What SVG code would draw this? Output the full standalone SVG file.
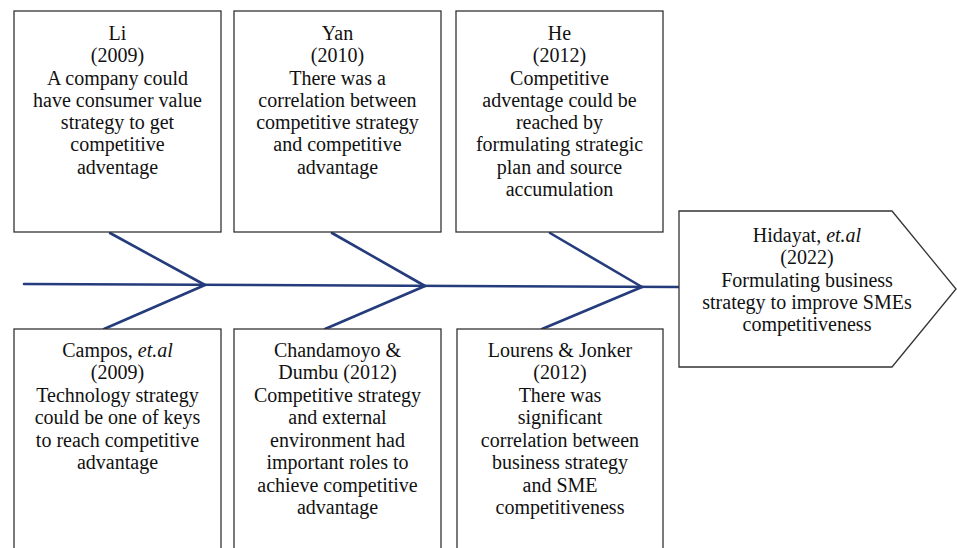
<svg xmlns="http://www.w3.org/2000/svg" width="957" height="548" viewBox="0 0 957 548">
<style>
.box{fill:#fff;stroke:#333;stroke-width:1.3}
.bone{stroke:#243b7c;stroke-width:2.6;fill:none;stroke-linecap:round}
.t text{text-anchor:middle;font-family:"Liberation Serif","Times New Roman",Times,"DejaVu Serif","Noto Serif",Tinos,FreeSerif,Georgia,serif;font-size:20px;fill:#111}
.it{font-style:italic}
</style>
<rect width="957" height="548" fill="#fff"/>
<g id="connectors">
<line class="bone" x1="24" y1="284" x2="679" y2="287"/>
<line class="bone" x1="110" y1="233" x2="205" y2="285"/>
<line class="bone" x1="205" y1="285" x2="104" y2="329"/>
<line class="bone" x1="332" y1="233" x2="425" y2="286"/>
<line class="bone" x1="425" y1="286" x2="325" y2="329"/>
<line class="bone" x1="550" y1="233" x2="642" y2="287"/>
<line class="bone" x1="642" y1="287" x2="542" y2="329"/>
</g>
<g class="t">
<g id="li">
<rect class="box" x="14" y="11" width="207" height="221"/>
<text x="117.5" y="40">Li</text>
<text x="117.5" y="62">(2009)</text>
<text x="117.5" y="85">A company could</text>
<text x="117.5" y="107">have consumer value</text>
<text x="117.5" y="129">strategy to get</text>
<text x="117.5" y="151">competitive</text>
<text x="117.5" y="174">adventage</text>
</g>
<g id="yan">
<rect class="box" x="234" y="11" width="207" height="221"/>
<text x="337.5" y="40">Yan</text>
<text x="337.5" y="62">(2010)</text>
<text x="337.5" y="85">There was a</text>
<text x="337.5" y="107">correlation between</text>
<text x="337.5" y="129">competitive strategy</text>
<text x="337.5" y="151">and competitive</text>
<text x="337.5" y="174">advantage</text>
</g>
<g id="he">
<rect class="box" x="456" y="11" width="207" height="221"/>
<text x="559.5" y="40">He</text>
<text x="559.5" y="62">(2012)</text>
<text x="559.5" y="85">Competitive</text>
<text x="559.5" y="107">adventage could be</text>
<text x="559.5" y="129">reached by</text>
<text x="559.5" y="151">formulating strategic</text>
<text x="559.5" y="174">plan and source</text>
<text x="559.5" y="196">accumulation</text>
</g>
<g id="campos">
<rect class="box" x="14" y="329" width="207" height="230"/>
<text x="117.5" y="357">Campos, <tspan class="it">et.al</tspan></text>
<text x="117.5" y="379">(2009)</text>
<text x="117.5" y="402">Technology strategy</text>
<text x="117.5" y="424">could be one of keys</text>
<text x="117.5" y="447">to reach competitive</text>
<text x="117.5" y="469">advantage</text>
</g>
<g id="chandamoyo">
<rect class="box" x="234" y="329" width="207" height="230"/>
<text x="337.5" y="357">Chandamoyo &amp;</text>
<text x="337.5" y="379">Dumbu (2012)</text>
<text x="337.5" y="402">Competitive strategy</text>
<text x="337.5" y="424">and external</text>
<text x="337.5" y="447">environment had</text>
<text x="337.5" y="469">important roles to</text>
<text x="337.5" y="492">achieve competitive</text>
<text x="337.5" y="514">advantage</text>
</g>
<g id="lourens">
<rect class="box" x="457" y="329" width="206" height="230"/>
<text x="560" y="357">Lourens &amp; Jonker</text>
<text x="560" y="379">(2012)</text>
<text x="560" y="402">There was</text>
<text x="560" y="424">significant</text>
<text x="560" y="447">correlation between</text>
<text x="560" y="469">business strategy</text>
<text x="560" y="492">and SME</text>
<text x="560" y="514">competitiveness</text>
</g>
<g id="hidayat">
<polygon class="box" points="679,211 892,211 956,289 892,367 679,367"/>
<text x="807" y="242">Hidayat, <tspan class="it">et.al</tspan></text>
<text x="807" y="264">(2022)</text>
<text x="807" y="287">Formulating business</text>
<text x="807" y="309">strategy to improve SMEs</text>
<text x="807" y="331">competitiveness</text>
</g>
</g>
</svg>
